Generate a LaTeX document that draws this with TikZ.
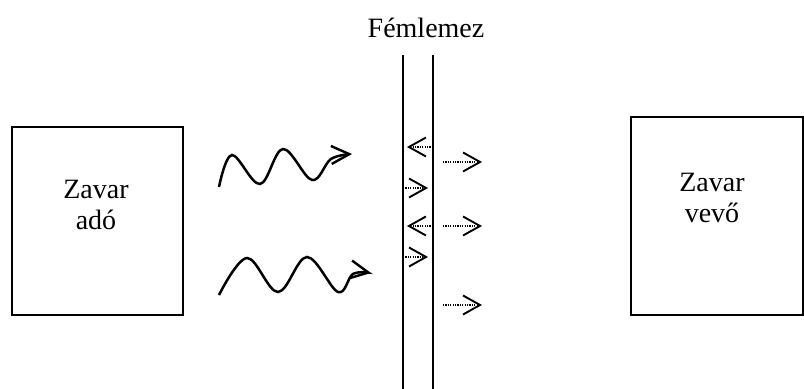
\documentclass[tikz,border=0pt]{standalone}
\usepackage{fontspec}
\setmainfont{Liberation Serif}
\usetikzlibrary{arrows.meta,
	calc}
\tikzset{
	box/.style={line width=1pt},
	wave/.style={line width=1.25pt, -{Straight Barb[length=9pt,width=9pt,line width=1.2pt]}},
	refl/.style={line width=0.7pt, dash pattern=on 0.6pt off 0.6pt, -{Straight Barb[length=8.5pt,width=9.5pt,line width=0.95pt]}},
	felirat/.style={font=\fontsize{14}{15.5}\selectfont, align=center}
}

\begin{document}
\begin{tikzpicture}[x=0.5pt, y=-0.5pt]
	\useasboundingbox (0,0) rectangle (804,389);
	\draw[box] (12,127) rectangle (183,315);
	\draw[box] (631,117) rectangle (803,315);
	\node[felirat] (ado) at (96,205) {Zavar\\adó};
	\node[felirat] (vevo) at (712,198) {Zavar\\vevő};
	\node[felirat] (lemez) at (426,28) {Fémlemez};
	\draw[box] (403,55) -- (403,389);
	\draw[box] (433,55) -- (433,389);
	\draw[wave] plot[smooth, tension=0.6] coordinates {(219,187) (232,155) (260,184) (283,149) (312,180) (331,159) (352,154)};
	\draw[wave] plot[smooth, tension=0.6] coordinates {(219,295) (247,258) (278,292) (307,257) (338,292) (353,274) (371,273)};
	\foreach \y in {147,226}
		\draw[refl] (433,\y) -- (407,\y);
	\foreach \y in {188,257}
		\draw[refl] (403,\y) -- (428,\y);
	\foreach \y in {162,226,305}
		\draw[refl] (443,\y) -- (482,\y);
\end{tikzpicture}
\end{document}
